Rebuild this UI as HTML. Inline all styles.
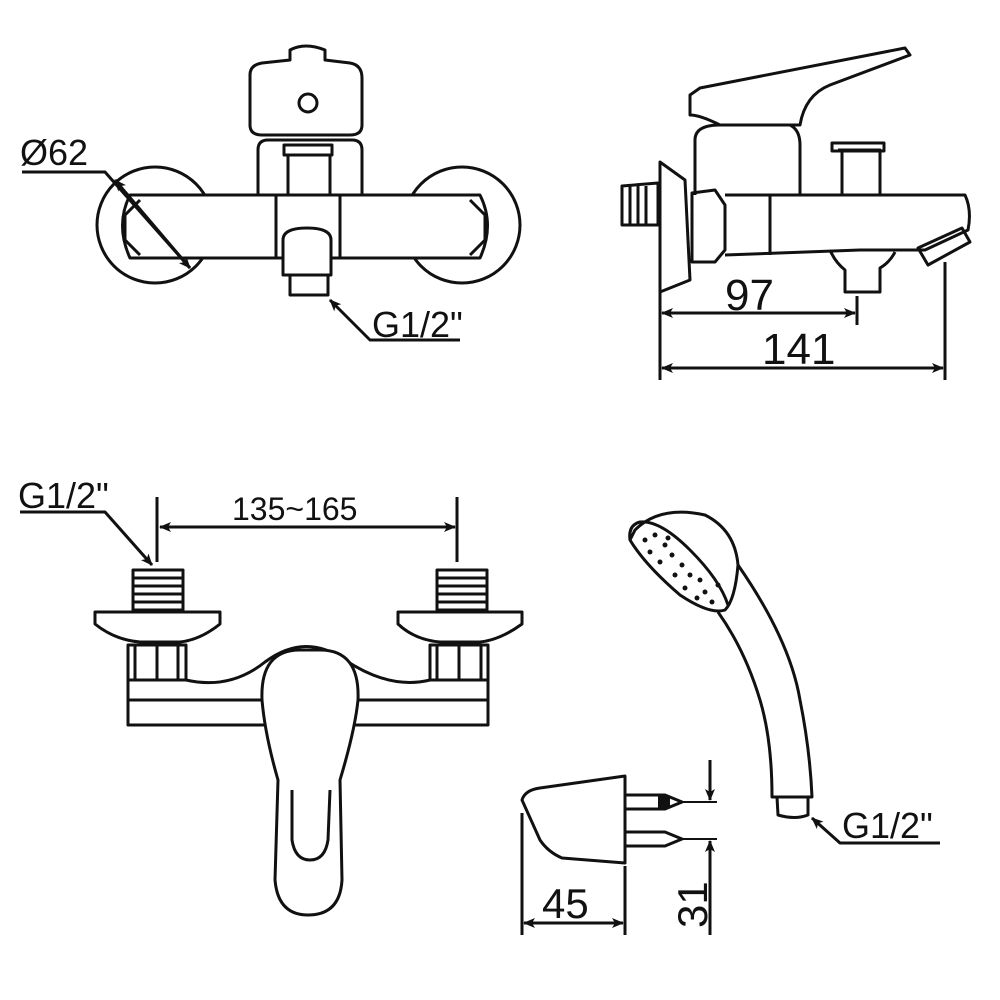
<!DOCTYPE html>
<html><head><style>
html,body{margin:0;padding:0;background:#fff;}
svg{display:block;}
text{font-family:"Liberation Sans",sans-serif;fill:#111;}
</style></head><body>
<svg width="1000" height="1000" viewBox="0 0 1000 1000" xmlns="http://www.w3.org/2000/svg">
<defs>
<marker id="a" markerWidth="12" markerHeight="10" refX="11" refY="5" orient="auto-start-reverse" markerUnits="userSpaceOnUse"><path d="M0,0 L12,5 L0,10 L3,5 Z" fill="#111"/></marker>
</defs>
<g fill="none" stroke="#111" stroke-width="3" stroke-linejoin="round">
<circle cx="155" cy="225" r="58"/>
<circle cx="462" cy="225" r="58"/>
<path d="M130,195 L480,195 Q495,225 480,258 L130,258 Q115,225 130,195 Z" fill="#fff"/>
<path d="M258,195 L258,150 Q258,140 268,140 L352,140 Q362,140 362,150 L362,195"/>
<rect x="284" y="145" width="48" height="10"/>
<path d="M288,155 L288,195 M330,155 L330,195"/>
<path d="M250,75 Q250,65 262,63 L290,60 L290,50 Q305,42 325,50 L325,60 L350,63 Q362,65 362,78 L362,125 Q362,135 350,135 L262,135 Q250,135 250,125 Z" fill="#fff"/>
<circle cx="308" cy="103" r="9"/>
<path d="M276,195 L276,258 M340,195 L340,258"/>
<path d="M283,240 Q283,228 307,228 Q331,228 331,240 L331,275 L283,275 Z" fill="#fff"/>
<rect x="290" y="275" width="38" height="20"/>
<path d="M140,200 L125,215 L125,240 L140,255 M470,200 L485,215 L485,240 L470,255"/>
<path d="M22,172 L105,172 L190,268" marker-end="url(#a)"/>
<path d="M190,268 L115,180" marker-end="url(#a)"/>
<path d="M460,340 L370,340 L330,300" marker-end="url(#a)"/>

<path d="M660,162 L685,180 L690,280 L660,292 Z"/>
<path d="M622,186 L658,183 L658,225 L622,225 Z"/>
<path d="M630,186 L630,225 M638,186 L638,225 M646,186 L646,225"/>
<path d="M692,193 L715,190 L725,205 L725,250 L715,262 L692,262 Z"/>
<path d="M725,195 L965,195 Q972,210 968,230 L925,250 L860,250 L725,255"/>
<path d="M770,195 L770,255"/>
<path d="M695,140 Q695,125 720,125 L790,125 Q800,130 800,145 L800,195 M695,140 L695,195"/>
<path d="M690,95 L700,88 L905,48 L910,55 L830,85 Q805,95 800,125 L720,125 Q700,115 690,115 Z"/>
<path d="M838,150 L880,150 L880,195 M842,150 L842,195"/>
<rect x="832" y="143" width="52" height="8"/>
<path d="M830,250 Q835,262 845,270 L845,292 L880,292 L880,268 Q890,262 895,252"/>
<path d="M918,248 L962,228 L970,242 L928,265 Z"/>
<path d="M660,292 L660,380 M857,296 L857,325 M945,262 L945,380"/>
<path d="M662,313 L855,313" marker-start="url(#a)" marker-end="url(#a)"/>
<path d="M662,368 L943,368" marker-start="url(#a)" marker-end="url(#a)"/>

<path d="M157,497 L157,562 M457,497 L457,562"/>
<path d="M160,527 L455,527" marker-start="url(#a)" marker-end="url(#a)"/>
<path d="M20,512 L105,512 L152,565" marker-end="url(#a)"/>
<rect x="133" y="570" width="50" height="40"/>
<path d="M133,578 L183,578 M133,586 L183,586 M133,594 L183,594 M133,602 L183,602"/>
<rect x="437" y="570" width="50" height="40"/>
<path d="M437,578 L487,578 M437,586 L487,586 M437,594 L487,594 M437,602 L487,602"/>
<path d="M95,612 L220,612 L220,624 Q200,640 180,642 L140,642 Q115,640 95,624 Z"/>
<path d="M398,612 L522,612 L522,624 Q500,640 480,642 L440,642 Q415,640 398,624 Z"/>
<rect x="128" y="645" width="58" height="35"/>
<path d="M157,645 L157,680 M135,645 L135,680 M178,645 L178,680"/>
<rect x="430" y="645" width="58" height="35"/>
<path d="M459,645 L459,680 M437,645 L437,680 M481,645 L481,680"/>
<path d="M128,680 L186,680 Q230,690 265,662 Q305,632 345,660 Q390,690 430,680 L488,680 L488,725 L128,725 Z" fill="#fff"/>
<path d="M128,700 L488,700"/>
<path d="M300,650 Q260,650 262,700 Q265,735 278,780 L275,880 Q278,915 308,915 Q340,915 342,880 L340,780 Q355,730 358,700 Q360,650 320,650 Z" fill="#fff"/>
<path d="M292,790 L292,840 Q295,860 310,860 Q325,860 328,840 L330,790"/>

<path d="M522,800 Q525,790 540,788 L625,776 L625,863 L562,858 Q548,852 540,840 Z"/>
<path d="M625,795 L665,795 L682,802 L665,809 L625,809 Z"/>
<path d="M625,832 L665,832 L682,839 L665,846 L625,846 Z"/>
<rect x="658" y="796" width="12" height="12" fill="#111" stroke="none"/>
<path d="M682,802 L717,802 M682,839 L717,839" stroke-width="2"/>
<path d="M710,760 L710,800" marker-end="url(#a)"/>
<path d="M710,935 L710,841" marker-end="url(#a)"/>
<path d="M522,813 L522,935 M625,866 L625,935"/>
<path d="M524,923 L623,923" marker-start="url(#a)" marker-end="url(#a)"/>
<path d="M635,530 Q660,505 705,515 Q735,530 738,565 Q735,600 725,610 Q710,615 680,595 Q645,565 630,540 Z"/>
<path d="M630,540 Q628,525 640,522 Q660,520 690,550 Q720,580 728,605"/>
<path d="M738,565 Q790,640 800,700 Q810,750 812,797 L772,797 Q772,740 760,700 Q745,650 718,612"/>
<path d="M777,797 L778,815 Q795,820 808,815 L808,797"/>
<path d="M940,843 L840,843 L812,818" marker-end="url(#a)"/>
</g>
<g fill="#111">
<circle cx="645" cy="540" r="2.5"/><circle cx="655" cy="535" r="2.5"/><circle cx="665" cy="545" r="2.5"/><circle cx="650" cy="552" r="2.5"/><circle cx="672" cy="555" r="2.5"/><circle cx="660" cy="562" r="2.5"/><circle cx="682" cy="565" r="2.5"/><circle cx="690" cy="575" r="2.5"/><circle cx="675" cy="575" r="2.5"/><circle cx="700" cy="580" r="2.5"/><circle cx="685" cy="588" r="2.5"/><circle cx="705" cy="592" r="2.5"/><circle cx="712" cy="602" r="2.5"/><circle cx="697" cy="598" r="2.5"/><circle cx="718" cy="585" r="2.5"/><circle cx="668" cy="538" r="2.5"/>
</g>
<g font-size="36">
<text x="20" y="165">Ø62</text>
<text x="372" y="337">G1/2"</text>
<text x="725" y="310" font-size="44">97</text>
<text x="762" y="364" font-size="44">141</text>
<text x="18" y="508">G1/2"</text>
<text x="232" y="520" font-size="32">135~165</text>
<text x="842" y="838">G1/2"</text>
<text x="542" y="918" font-size="42">45</text>
<text transform="translate(707,928) rotate(-90)" font-size="42">31</text>
</g>
</svg>
</body></html>
